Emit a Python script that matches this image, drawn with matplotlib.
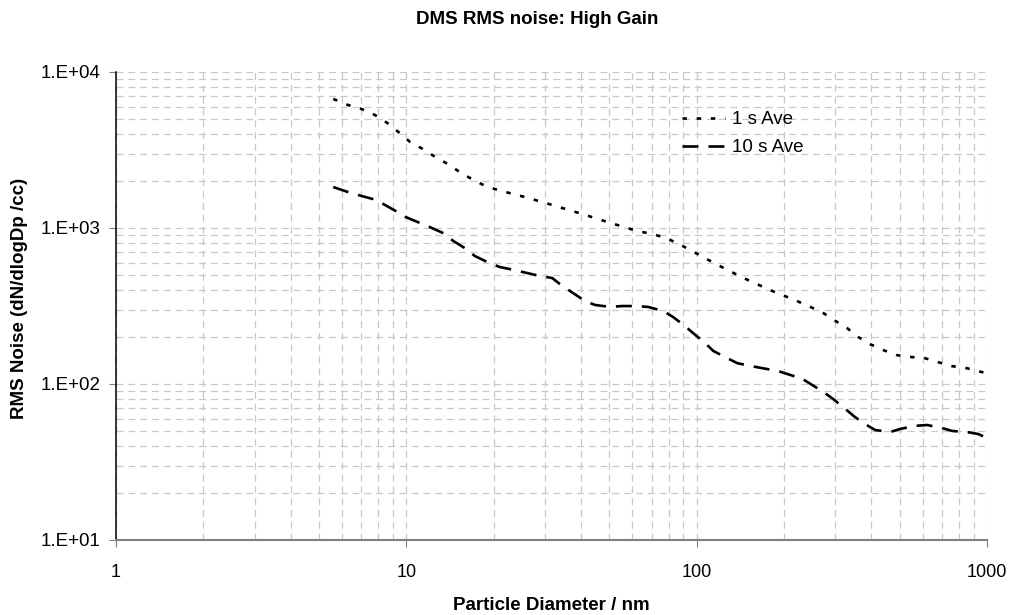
import matplotlib.pyplot as plt
import numpy as np
from matplotlib.ticker import FuncFormatter, LogLocator, FixedLocator

plt.rcParams['font.family'] = ['Liberation Sans', 'DejaVu Sans']
plt.rcParams['lines.scale_dashes'] = False

# 1 s average
d1 = [5.6, 6.3, 7.0, 7.8, 8.6, 9.4, 10.3, 11.4, 12.6, 13.9, 15.3, 16.8, 18.7, 20.7,
      25.6, 32.0, 40.3, 49.5, 62.3, 70.2, 78.5, 86.9, 96.4, 118, 145, 179, 218, 270,
      297, 330, 360, 396, 439, 490, 543, 607, 679, 759, 841, 1000]
v1 = [6720, 6140, 5800, 5300, 4710, 4120, 3560, 3210, 2850, 2570, 2280, 2060, 1860, 1750,
      1580, 1400, 1230, 1090, 957, 916, 863, 789, 712, 580, 478, 400, 345, 289,
      257, 228, 200, 180, 165, 153, 149, 147, 138, 130, 127, 117]

# 10 s average
d10 = [5.6, 6.3, 6.8, 7.7, 8.3, 9.3, 9.9, 11.1, 12.1, 13.6, 14.5, 16.1, 17.2, 19.3,
       21.0, 23.5, 28.9, 31.8, 33.8, 37.5, 41.3, 44.7, 50.3, 55.3, 62.3, 68.0, 76.6,
       82.9, 91.2, 97.2, 107, 114, 127, 138, 155, 191, 231, 250, 273, 295, 319, 351,
       380, 412, 464, 502, 565, 622, 700, 759, 853, 932, 1000]
v10 = [1830, 1700, 1630, 1530, 1430, 1270, 1180, 1080, 1010, 916, 826, 733, 662, 597,
       562, 538, 492, 478, 437, 383, 340, 321, 312, 316, 316, 312, 294,
       269, 235, 212, 183, 163, 147, 136, 130, 121, 108, 98.6, 89, 80.2, 71.3, 61.4,
       55.4, 50.7, 49.2, 51.5, 53.9, 54.6, 52.2, 50.0, 49.2, 47.8, 45.1]

x_ticks = [1, 10, 100, 1000]
y_ticks = [1e1, 1e2, 1e3, 1e4]

W, H = 1010, 615
fig = plt.figure(figsize=(W / 100, H / 100), dpi=100)
ax = fig.add_axes([116 / W, 1 - 540 / H, (987 - 116) / W, (540 - 72) / H])

ax.plot(d1, v1, color='black', lw=1.9, dashes=(3.2, 7.0), dash_capstyle='butt',
        label='1 s Ave')
ax.plot(d10, v10, color='black', lw=1.9, dashes=(11.5, 7.2), dash_capstyle='butt',
        label='10 s Ave')

ax.set_xscale('log')
ax.set_yscale('log')
ax.set_xlim(1, 1000)
ax.set_ylim(10, 10000)

ax.xaxis.set_major_locator(FixedLocator(x_ticks))
ax.yaxis.set_major_locator(FixedLocator(y_ticks))
ax.xaxis.set_minor_locator(LogLocator(base=10, subs=np.arange(2, 10)))
ax.yaxis.set_minor_locator(LogLocator(base=10, subs=np.arange(2, 10)))
ax.xaxis.set_major_formatter(FuncFormatter(lambda v, p: '%d' % v))
ax.yaxis.set_major_formatter(
    FuncFormatter(lambda v, p: '1.E+%02d' % int(round(np.log10(v)))))

ax.grid(True, which='both', color='#c8c8c8', lw=0.9, dashes=(5, 3.5))
ax.set_axisbelow(True)

for s in ['top', 'right']:
    ax.spines[s].set_visible(False)
ax.spines['left'].set_color('black')
ax.spines['left'].set_linewidth(1.1)
ax.spines['bottom'].set_color('#808080')
ax.spines['bottom'].set_linewidth(1.5)

ax.tick_params(which='major', direction='out', length=5, color='#808080')
ax.tick_params(axis='y', which='major', labelsize=13.5, pad=6)
ax.tick_params(axis='x', which='major', labelsize=13, pad=12)
ax.tick_params(which='minor', length=0)

fig.text(537 / W, 1 - 20 / H, 'DMS RMS noise: High Gain', fontsize=13.5,
         fontweight='bold', ha='center', va='center')
ax.set_xlabel('Particle Diameter / nm', fontsize=13.5, fontweight='bold', labelpad=12)
fig.text(20 / W, 1 - 298 / H, 'RMS Noise (dN/dlogDp /cc)', fontsize=13.5,
         fontweight='bold', rotation=90, ha='center', va='center')

ax.legend(loc='upper left', bbox_to_anchor=(682 / W, 1 - 111 / H),
          bbox_transform=fig.transFigure, frameon=False, fontsize=13.5,
          handlelength=2.3, handletextpad=0.37, labelspacing=0.6, borderaxespad=0,
          borderpad=0)

fig.savefig('out.png', dpi=100)
